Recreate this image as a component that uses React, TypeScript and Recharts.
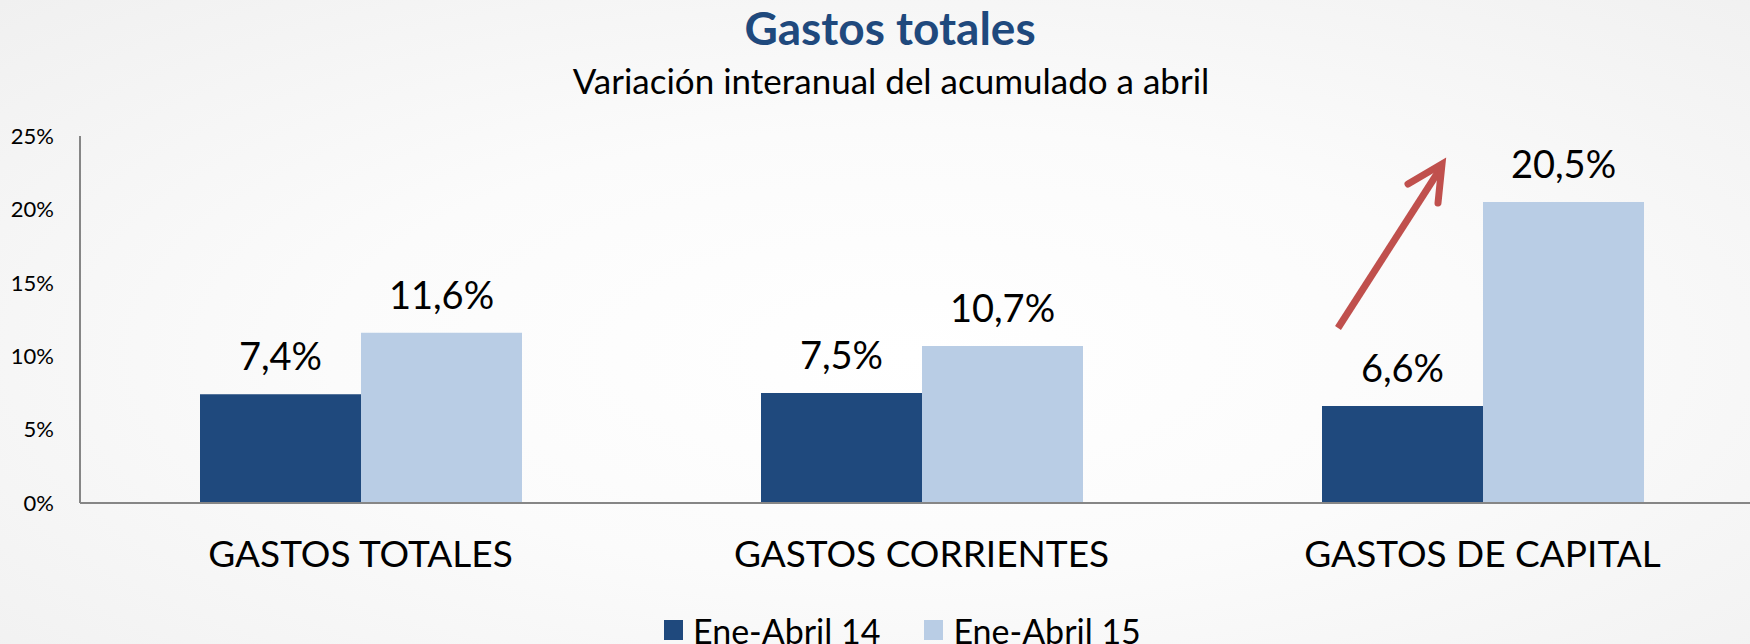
import { BarChart, Bar, XAxis, YAxis, LabelList, Legend } from 'recharts'

const categories = ['GASTOS TOTALES', 'GASTOS CORRIENTES', 'GASTOS DE CAPITAL']
const abril14 = [7.4, 7.5, 6.6]
const abril15 = [11.6, 10.7, 20.5]
const yTicks = [0, 5, 10, 15, 20, 25]
const seriesNames = ['Ene-Abril 14', 'Ene-Abril 15']

const DARK = '#1F497D'
const LIGHT = '#B9CDE5'
const FONT = "Lato, 'Open Sans', sans-serif"

const data = categories.map((name, i) => ({ name, a14: abril14[i], a15: abril15[i] }))

const fmtPct = (v: number) => `${v.toFixed(1).replace('.', ',')}%`

function LegendBox({ payload }: any) {
  return (
    <div style={{ display: 'flex', alignItems: 'center', gap: 44, height: 50, fontFamily: FONT, fontSize: 34, color: '#000' }}>
      {(payload || []).map((p: any) => (
        <div key={p.value} style={{ display: 'flex', alignItems: 'center', gap: 10 }}>
          <span style={{ display: 'inline-block', width: 19, height: 20, background: p.color }} />
          <span>{p.value}</span>
        </div>
      ))}
    </div>
  )
}

export default function App() {
  return (
    <div
      style={{
        position: 'absolute',
        left: 0,
        top: 0,
        width: 1750,
        height: 644,
        overflow: 'hidden',
        background: 'radial-gradient(ellipse at 52% 55%, #ffffff 0%, #fbfbfb 45%, #f0f0f0 100%)',
        fontFamily: FONT,
      }}
    >
      <div style={{ position: 'absolute', left: 0, top: 3, width: 1780, textAlign: 'center', fontSize: 46, fontWeight: 700, color: DARK, lineHeight: '50px' }}>
        Gastos totales
      </div>
      <div style={{ position: 'absolute', left: 0, top: 60, width: 1782, textAlign: 'center', fontSize: 35, color: '#000', lineHeight: '40px' }}>
        Variación interanual del acumulado a abril
      </div>

      <BarChart
        width={1765}
        height={660}
        data={data}
        margin={{ top: 136, right: 2, left: 0, bottom: 0 }}
        barCategoryGap={120}
        barGap={0}
        style={{ position: 'absolute', left: 0, top: 0 }}
      >
        <XAxis
          dataKey="name"
          height={107}
          tickLine={false}
          tickMargin={32}
          axisLine={{ stroke: '#868686', strokeWidth: 2 }}
          tick={{ fontSize: 37, fill: '#000', fontFamily: FONT }}
          interval={0}
        />
        <YAxis
          width={80}
          domain={[0, 25]}
          ticks={yTicks}
          tickFormatter={(v) => `${v}%`}
          tickLine={false}
          tickMargin={20}
          axisLine={{ stroke: '#868686', strokeWidth: 2 }}
          tick={{ fontSize: 22, fill: '#000', fontFamily: FONT }}
        />
        <Legend
          verticalAlign="bottom"
          content={<LegendBox />}
          wrapperStyle={{ left: 664, width: 600, height: 50, top: 605 }}
        />
        <Bar dataKey="a14" name={seriesNames[0]} fill={DARK} isAnimationActive={false}>
          <LabelList dataKey="a14" position="top" offset={24} formatter={(v: any) => fmtPct(Number(v))} style={{ fontSize: 38, fill: '#000', fontFamily: FONT }} />
        </Bar>
        <Bar dataKey="a15" name={seriesNames[1]} fill={LIGHT} isAnimationActive={false}>
          <LabelList dataKey="a15" position="top" offset={24} formatter={(v: any) => fmtPct(Number(v))} style={{ fontSize: 38, fill: '#000', fontFamily: FONT }} />
        </Bar>
      </BarChart>

      {/* flecha de anotación */}
      <svg width={1750} height={644} style={{ position: 'absolute', left: 0, top: 0, pointerEvents: 'none' }}>
        <line x1={1338} y1={328} x2={1442} y2={166} stroke="#C0504D" strokeWidth={7} />
        <polyline points="1408,184 1442,164 1438,203" fill="none" stroke="#C0504D" strokeWidth={7} strokeLinecap="round" strokeLinejoin="miter" />
      </svg>
    </div>
  )
}
